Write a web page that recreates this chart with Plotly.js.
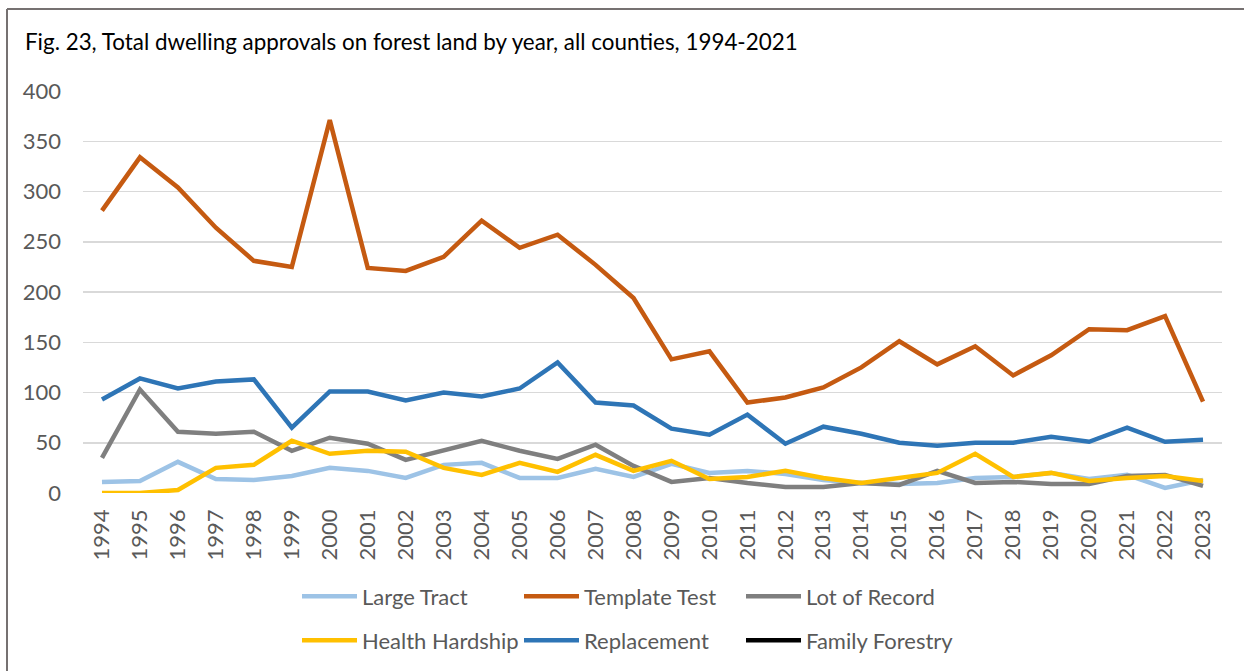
<!DOCTYPE html>
<html>
<head>
<meta charset="utf-8">
<script src="https://cdn.plot.ly/plotly-3.0.1.min.js"></script>
<style>
html,body{margin:0;padding:0;background:#fff;}
#chart{width:1244px;height:671px;}
</style>
</head>
<body>
<div id="chart"></div>
<script>
const years = ['1994','1995','1996','1997','1998','1999','2000','2001','2002','2003','2004','2005','2006','2007','2008','2009','2010','2011','2012','2013','2014','2015','2016','2017','2018','2019','2020','2021','2022','2023'];
const largeTract = [11,12,31,14,13,17,25,22,15,28,30,15,15,24,16,29,20,22,19,13,10,9,10,15,16,20,14,18,5,13];
const templateTest = [281,334,304,264,231,225,371,224,221,235,271,244,257,227,194,133,141,90,95,105,125,151,128,146,117,137,163,162,176,91];
const lotOfRecord = [35,103,61,59,61,42,55,49,33,43,52,42,34,48,27,11,15,10,6,6,10,8,22,10,11,9,9,17,18,7];
const healthHardship = [0,0,3,25,28,52,39,42,41,25,18,30,21,38,22,32,14,16,22,15,10,15,20,39,16,20,12,15,17,12];
const replacement = [93,114,104,111,113,65,101,101,92,100,96,104,130,90,87,64,58,78,49,66,59,50,47,50,50,56,51,65,51,53];
const familyForestry = years.map(() => null);

const seriesNames = ['Large Tract','Template Test','Lot of Record','Health Hardship','Replacement','Family Forestry'];
const seriesData = [largeTract, templateTest, lotOfRecord, healthHardship, replacement, familyForestry];
const seriesColors = ['#9DC3E6','#C55A11','#7F7F7F','#FFC000','#2E75B6','#000000'];
const seriesLegend = ['legend','legend','legend','legend2','legend2','legend2'];

const traces = seriesNames.map((n,i) => ({
  type:'scatter', mode:'lines', name:n, x:years, y:seriesData[i],
  line:{color:seriesColors[i], width:4.5, shape:'linear'},
  legend: seriesLegend[i], hoverinfo:'x+y+name'
}));

const font = 'Lato, "Open Sans", sans-serif';
const L = 83, R = 1222, T = 91, B = 493;
const pw = R - L, ph = B - T;
const px = v => (v - L) / pw;
const py = v => (B - v) / ph;

const legendCommon = {
  orientation:'h', font:{family:font, size:22, color:'#595959'},
  bgcolor:'rgba(0,0,0,0)', borderwidth:0, itemwidth:55,
  entrywidth:152, entrywidthmode:'pixels', tracegroupgap:0,
  xanchor:'left', yanchor:'middle', itemclick:false, itemdoubleclick:false
};

const layout = {
  width:1244, height:671,
  margin:{l:L, r:1244-R, t:T, b:671-B, pad:0, autoexpand:false},
  paper_bgcolor:'#fff', plot_bgcolor:'#fff',
  font:{family:font, color:'#595959'},
  title:{text:'Fig. 23, Total dwelling approvals on forest land by year, all counties, 1994-2021',
    font:{family:font, size:22.4, color:'#000'}, x:25/1244, xanchor:'left', y:1-42/671, yanchor:'middle', xref:'container', yref:'container'},
  xaxis:{type:'category', range:[-0.5, 29.5], showgrid:false, zeroline:false, showline:false, automargin:false,
    ticks:'', tickangle:-90, tickfont:{family:font, size:22, color:'#595959'}, ticklabelstandoff:11, fixedrange:true},
  yaxis:{range:[0,400], dtick:50, showgrid:true, gridcolor:'#D9D9D9', gridwidth:1.5, zeroline:false, automargin:false,
    showline:false, ticks:'', tickfont:{family:font, size:22, color:'#595959'}, ticklabelstandoff:21, fixedrange:true},
  legend: Object.assign({}, legendCommon, {x:px(297), y:py(596.5)}),
  legend2: Object.assign({}, legendCommon, {x:px(297), y:py(640.5)}),
  showlegend:true,
  shapes:[
    {type:'line', xref:'paper', yref:'paper', x0:px(7), x1:px(1260), y0:py(9), y1:py(9), line:{color:'#767171', width:2}},
    {type:'line', xref:'paper', yref:'paper', x0:px(7), x1:px(7), y0:py(9), y1:py(690), line:{color:'#767171', width:2}}
  ]
};

function stretchLegendLines(){
  document.querySelectorAll('#chart .legend .legendlines path').forEach(p => {
    p.setAttribute('d', 'M5,0h55');
  });
}

Plotly.newPlot('chart', traces, layout, {displayModeBar:false, staticPlot:true}).then(gd => {
  stretchLegendLines();
  gd.on('plotly_afterplot', stretchLegendLines);
});
</script>
</body>
</html>
